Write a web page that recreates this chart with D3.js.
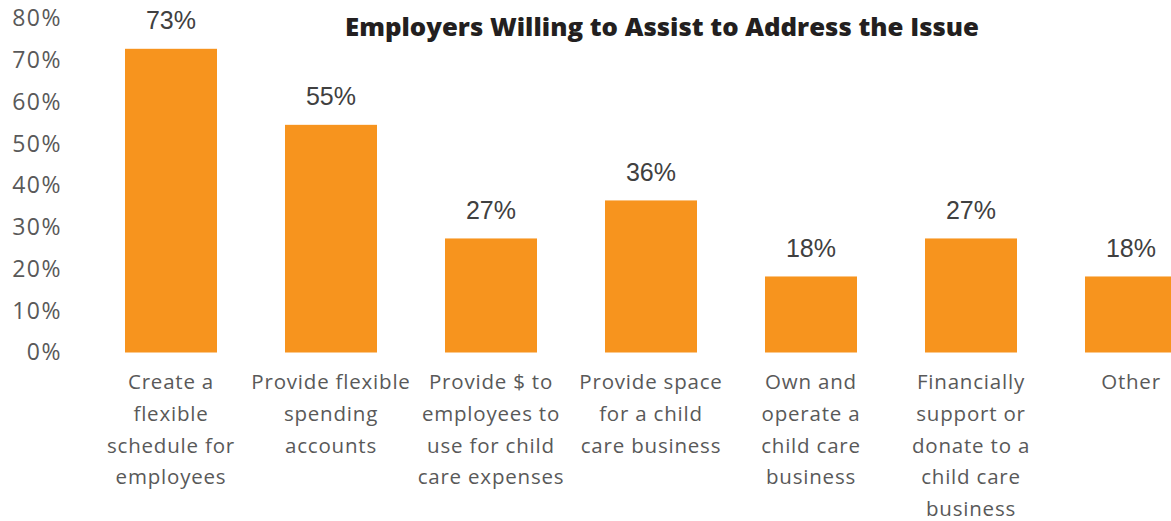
<!DOCTYPE html>
<html>
<head>
<meta charset="utf-8">
<script src="https://cdn.jsdelivr.net/npm/d3@7"></script>
<style>
  html, body { margin: 0; padding: 0; background: #ffffff; overflow: hidden; }
  svg { display: block; }
</style>
</head>
<body>
<svg id="chart" width="1171" height="521"></svg>
<script>
// Survey categories, each split into the lines shown under its bar
const categoryLines = [
  ["Create a", "flexible", "schedule for", "employees"],
  ["Provide flexible", "spending", "accounts"],
  ["Provide $ to", "employees to", "use for child", "care expenses"],
  ["Provide space", "for a child", "care business"],
  ["Own and", "operate a", "child care", "business"],
  ["Financially", "support or", "donate to a", "child care", "business"],
  ["Other"]
];
const categories = categoryLines.map(l => l.join(" "));

// Share of employers willing to assist (8, 6, 3, 4, 2, 3, 2 of 11)
const shares = [0.727, 0.545, 0.273, 0.364, 0.182, 0.273, 0.182];

// Y axis ticks
const yTicks = [0, 0.1, 0.2, 0.3, 0.4, 0.5, 0.6, 0.7, 0.8];

const title = "Employers Willing to Assist to Address the Issue";

const svg = d3.select("#chart");

const x = d3.scaleBand()
  .domain(categories)
  .range([91, 1211])
  .paddingInner(0.425)
  .paddingOuter(0.2125);

const y = d3.scaleLinear()
  .domain([0, 0.8])
  .range([352.5, 18.3]);

// Y axis: labels only, no line or tick marks
const yAxis = svg.append("g")
  .attr("transform", "translate(64,0)")
  .call(d3.axisLeft(y).tickValues(yTicks).tickFormat(d3.format(".0%")).tickSize(0).tickPadding(2));
yAxis.select(".domain").remove();
yAxis.selectAll("text")
  .attr("font-family", "'Open Sans', 'Noto Sans', sans-serif")
  .attr("font-size", 23)
  .attr("letter-spacing", "1.5px")
  .attr("fill", "#595959");

// Bars
svg.append("g")
  .selectAll("rect")
  .data(shares)
  .join("rect")
  .attr("x", (d, i) => x(categories[i]))
  .attr("y", d => y(d))
  .attr("width", x.bandwidth())
  .attr("height", d => y(0) - y(d))
  .attr("fill", "#F7941E");

// Value labels above the bars
svg.append("g")
  .selectAll("text")
  .data(shares)
  .join("text")
  .attr("x", (d, i) => x(categories[i]) + x.bandwidth() / 2)
  .attr("y", d => y(d) - 19.5)
  .attr("text-anchor", "middle")
  .attr("font-family", "'Liberation Sans', Arial, sans-serif")
  .attr("font-size", 25)
  .attr("fill", "#404040")
  .text(d => d3.format(".0%")(d));

// Category labels, wrapped over several lines
const cat = svg.append("g")
  .selectAll("text")
  .data(categoryLines)
  .join("text")
  .attr("text-anchor", "middle")
  .attr("font-family", "'Open Sans', 'Noto Sans', sans-serif")
  .attr("font-size", 20.5)
  .attr("letter-spacing", "0.8px")
  .attr("fill", "#595959")
  .attr("transform", (d, i) => `translate(${x(categories[i]) + x.bandwidth() / 2},389.3)`);
cat.selectAll("tspan")
  .data(d => d)
  .join("tspan")
  .attr("x", 0)
  .attr("y", (d, j) => j * 31.7)
  .text(d => d);

// Chart title
svg.append("text")
  .attr("x", 345)
  .attr("y", 36)
  .attr("text-anchor", "start")
  .attr("textLength", 634)
  .attr("lengthAdjust", "spacingAndGlyphs")
  .attr("font-family", "'Open Sans', 'Noto Sans', sans-serif")
  .attr("font-weight", 800)
  .attr("font-size", 25)
  .attr("fill", "#231F20")
  .text(title);
</script>
</body>
</html>
